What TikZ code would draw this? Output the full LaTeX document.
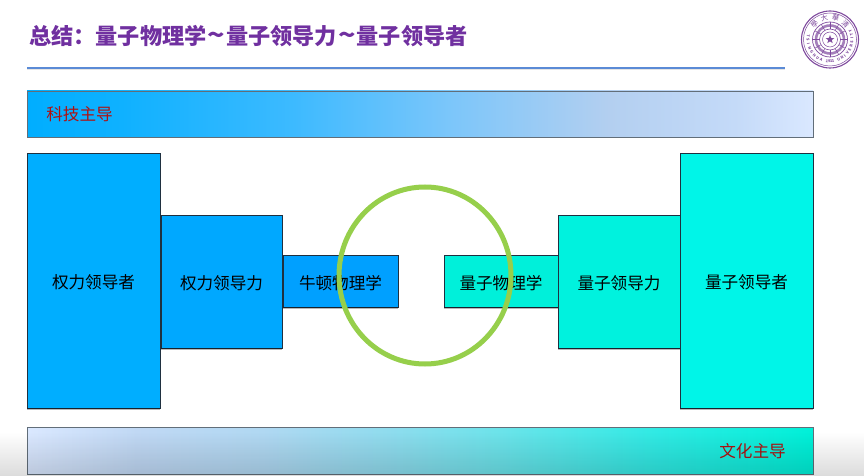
\documentclass[tikz,border=0pt]{standalone}
\usepackage{fontspec}
\setmainfont{Noto Sans CJK SC}
\usetikzlibrary{shapes.geometric,fadings,calc}
\definecolor{titlepurple}{HTML}{7030A0}
\definecolor{rulecol}{HTML}{5B8BD6}
\definecolor{labelred}{HTML}{B01010}
\definecolor{ringgreen}{HTML}{96CF4B}
\definecolor{sealpurple}{HTML}{7F4A9E}
\definecolor{edgecol}{HTML}{1F3040}
\definecolor{ta}{HTML}{00AEFF}\definecolor{tb}{HTML}{0FB1FF}\definecolor{tc}{HTML}{3DBAFF}
\definecolor{td}{HTML}{7CC6FA}\definecolor{te}{HTML}{B3CFF0}\definecolor{tf}{HTML}{C4DAF8}\definecolor{tg}{HTML}{DAE8FF}
\definecolor{ua}{HTML}{DAE8FF}\definecolor{ub}{HTML}{C0D8F4}\definecolor{uc}{HTML}{B0D8F2}
\definecolor{ud}{HTML}{8FDCEE}\definecolor{ue}{HTML}{6CE3EA}\definecolor{uf}{HTML}{30EAE4}\definecolor{ug}{HTML}{00F0D8}
\pgfdeclarehorizontalshading{topbar}{100bp}{
  color(0bp)=(ta);color(25bp)=(ta);color(31bp)=(tb);
  color(42bp)=(tc);color(52bp)=(td);color(62bp)=(te);
  color(70bp)=(tf);color(75bp)=(tg);color(100bp)=(tg)}
\pgfdeclarehorizontalshading{bottombar}{100bp}{
  color(0bp)=(ua);color(25bp)=(ua);color(32bp)=(ub);
  color(40bp)=(uc);color(48bp)=(ud);color(55bp)=(ue);
  color(65bp)=(uf);color(75bp)=(ug);color(100bp)=(ug)}
\newcommand{\blocktext}[1]{\raisebox{-2bp}[\height][\depth]{#1}}
\newcommand{\wavesep}{\hspace{1bp}\scalebox{1.3}[1.15]{\textasciitilde}\hspace{1bp}}
\tikzset{
  x=1bp,y=-1bp,
  every node/.style={inner sep=0pt,outer sep=0pt},
  blockbox/.style={draw=edgecol,line width=.8bp,
    font=\fontsize{16.6bp}{18bp}\selectfont,text=black},
  blockshadow/.style={fill=black,opacity=.28},
  barbox/.style={draw=edgecol!70,line width=.7bp},
  barlabel/.style={text=labelred,font=\fontsize{16.6bp}{18bp}\selectfont},
  titletext/.style={text=titlepurple,font=\fontsize{22.2bp}{24bp}\selectfont\bfseries,anchor=west},
  sealletter/.style={text=sealpurple,font=\fontsize{3.8bp}{4bp}\selectfont\bfseries},
  sealchar/.style={text=sealpurple,font=\fontsize{7bp}{7bp}\selectfont},
}
\definecolor{blue1}{HTML}{00AEFF}
\definecolor{blue2}{HTML}{00A8FF}
\definecolor{blue3}{HTML}{00A0FF}
\definecolor{teal1}{HTML}{00F5E8}
\definecolor{teal2}{HTML}{00F2DE}
\definecolor{teal3}{HTML}{00F0DA}
\tikzfading[name=fadedown,top color=transparent!100,bottom color=transparent!86]
\begin{document}
\begin{tikzpicture}
\useasboundingbox (0,0) rectangle (865,476);
\fill[white] (0,0) rectangle (865,476);
% title
\node[titletext] (title) at (29,36) {总结：量子物理学\wavesep 量子领导力\wavesep 量子领导者};
% rule
\coordinate (ruleL) at (27,68);
\coordinate (ruleR) at (785,68);
\draw[black!10,line width=1.4bp] ([yshift=-1.4bp]ruleL) -- ([yshift=-1.4bp]ruleR);
\draw[rulecol,line width=1.3bp] (ruleL) -- (ruleR);
% bars
\node[barbox,shading=topbar,minimum width=786bp,minimum height=46bp,anchor=north west] (topbar) at (27,91) {};
\node[barbox,shading=bottombar,minimum width=786bp,minimum height=47bp,anchor=north west] (botbar) at (27,427) {};
\node[barlabel] (toplabel) at (79.5,114) {科技主导};
\node[barlabel] (botlabel) at (752.5,451) {文化主导};
% blocks
\node[blockbox,fill=blue1,minimum width=133bp,minimum height=255bp,anchor=north west] (b1) at (27,153) {\blocktext{权力领导者}};
\node[blockbox,fill=blue2,minimum width=121bp,minimum height=133bp,anchor=north west] (b2) at (161,215) {\blocktext{权力领导力}};
\node[blockbox,fill=blue3,minimum width=115bp,minimum height=52bp,anchor=north west] (b3) at (283,255) {\blocktext{牛顿物理学}};
\node[blockbox,fill=teal3,minimum width=114bp,minimum height=52bp,anchor=north west] (t3) at (444,255) {\blocktext{量子物理学}};
\node[blockbox,fill=teal2,minimum width=122bp,minimum height=133bp,anchor=north west] (t2) at (558,215) {\blocktext{量子领导力}};
\node[blockbox,fill=teal1,minimum width=133bp,minimum height=255bp,anchor=north west] (t1) at (680,153) {\blocktext{量子领导者}};
\foreach \n in {b1,b2,b3,t3,t2,t1}
  \fill[blockshadow] (\n.south west) rectangle ([yshift=-2bp]\n.south east);
% highlight ring
\node[ellipse,draw=ringgreen,line width=5bp,minimum width=172bp,minimum height=177bp] (ring) at (425,275.5) {};
% seal
\begin{scope}[shift={(830,39.5)},sealpurple]
  \draw[line width=1.1bp] (0,0) circle (28.5);
  \draw[line width=.5bp] (0,0) circle (26.5);
  \draw[line width=.7bp] (0,0) circle (17.5);
  \draw[line width=2.6bp,sealpurple!70] (0,0) circle (14);
  \draw[line width=.6bp] (0,0) circle (10.5);
  \draw[line width=.5bp] (0,0) circle (7.5);
  \foreach \a in {0,30,...,330}
    \draw[line width=.5bp] (\a:10.5) -- (\a:17.5);
  \node[star,star points=5,star point ratio=2.4,fill=sealpurple,minimum size=9bp] (sealstar) at (0,0) {};
  \foreach \a/\t in {135/學,105/大,75/華,45/清}
    \node[sealchar,rotate=\a-90] at (-\a:22) {\t};
  \foreach \a/\t in {170/T,181/S,192/I,203/N,214/G,225/H,236/U,247/A,262/1,268/9,273/1,278/1,293/U,303/N,313/I,323/V,333/E,343/R,353/S,363/I,373/T,383/Y}
    \node[sealletter,rotate=\a+90] at (-\a:22) {\t};
\end{scope}
% lower page fade
\fill[black,path fading=fadedown] (0,432) rectangle (865,476);
\end{tikzpicture}
\end{document}
